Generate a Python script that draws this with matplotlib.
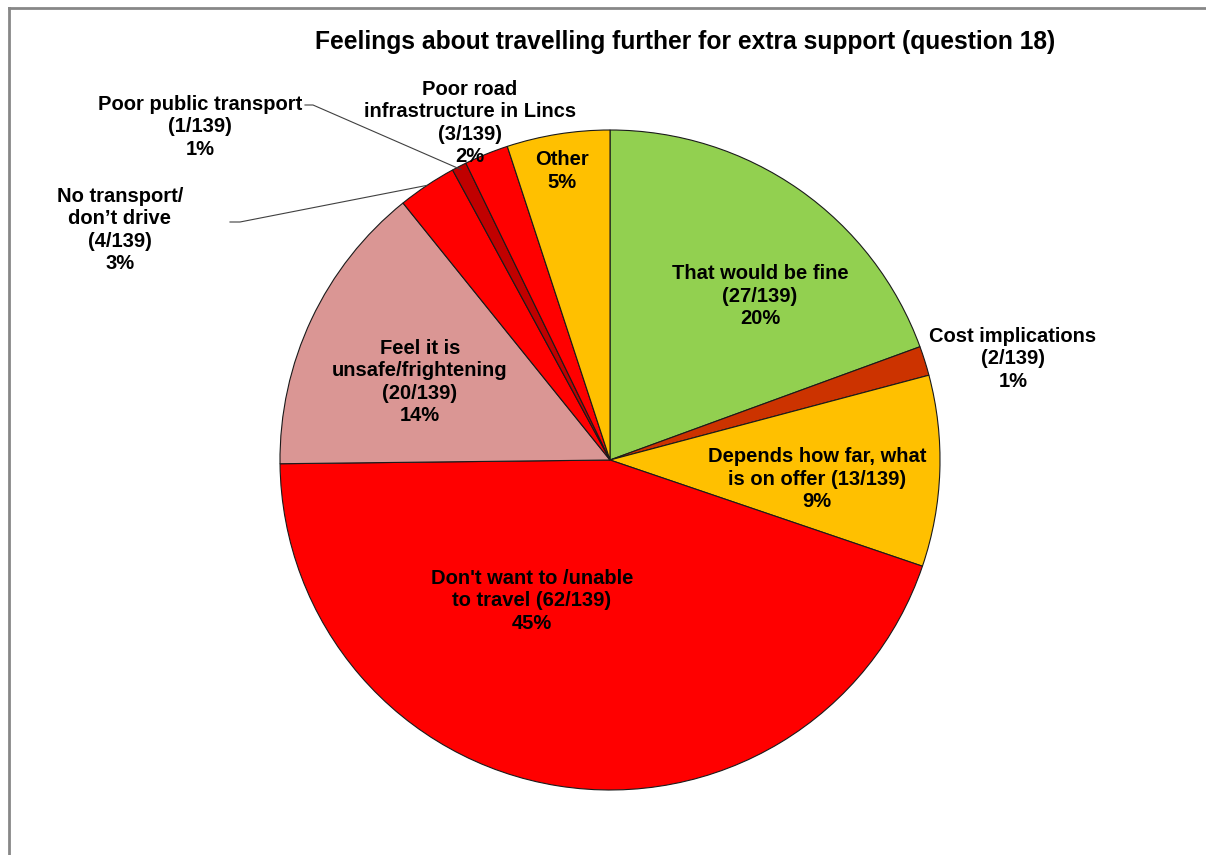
import numpy as np
import matplotlib.pyplot as plt
from matplotlib.lines import Line2D

plt.rcParams['font.family'] = ['Liberation Sans', 'DejaVu Sans']

# Data, clockwise from 12 o'clock
labels = ["That would be fine\n(27/139)", "Cost implications\n(2/139)",
          "Depends how far, what\nis on offer (13/139)",
          "Don't want to /unable\nto travel (62/139)", "Feel it is\nunsafe/frightening\n(20/139)",
          "No transport/\ndon\u2019t drive\n(4/139)", "Poor public transport\n(1/139)",
          "Poor road\ninfrastructure in Lincs\n(3/139)", "Other"]
counts = [27, 2, 13, 62, 20, 4, 1, 3, 7]
percents = ["20%", "1%", "9%", "45%", "14%", "3%", "1%", "2%", "5%"]
colors = ["#92D050", "#CC3300", "#FFC000", "#FF0000", "#DA9694",
          "#FF0000", "#C00000", "#FF0000", "#FFC000"]

W, H = 1206, 855
fig = plt.figure(figsize=(W / 100, H / 100), dpi=100)
ax = fig.add_axes([0, 0, 1, 1])

cx, cy, R = 610, H - 460, 330
wedges, _ = ax.pie(counts, colors=colors, startangle=90, counterclock=False,
                   center=(cx, cy), radius=R, frame=True,
                   wedgeprops=dict(edgecolor='#1a1a1a', linewidth=0.8))
ax.set_xlim(0, W)
ax.set_ylim(0, H)
ax.set_aspect('equal')
ax.axis('off')

# label text centres (pixels from top-left)
label_pos = [(760, 296), (1013, 359), (817, 479), (532, 601), (420, 382),
             (120, 230), (200, 127), (470, 123), (562, 171)]
for lab, pct, (x, y) in zip(labels, percents, label_pos):
    ax.text(x, H - y, f"{lab}\n{pct}", ha='center', va='center', fontsize=14.5,
            fontweight='bold', linespacing=1.24, color='black')

# leader lines for the small slices on the upper left
def edge_point(i, r):
    w = wedges[i]
    a = np.deg2rad((w.theta1 + w.theta2) / 2)
    return cx + r * np.cos(a), cy + r * np.sin(a)

ex, ey = edge_point(6, R * 0.99)
ax.plot([305, 313, ex], [H - 105, H - 105, ey], color='#404040', lw=0.8)
ex, ey = edge_point(5, R * 1.0)
ax.plot([230, 240, ex], [H - 222, H - 222, ey], color='#404040', lw=0.8)

ax.text(685, H - 42, "Feelings about travelling further for extra support (question 18)",
        ha='center', va='center', fontsize=17.7, fontweight='bold')

# chart area border (cropped at right and bottom)
fig.add_artist(Line2D([9 / W, 1], [1 - 8 / H, 1 - 8 / H], color='#878787', lw=2,
                      transform=fig.transFigure))
fig.add_artist(Line2D([9 / W, 9 / W], [0, 1 - 8 / H], color='#878787', lw=2,
                      transform=fig.transFigure))

fig.savefig('out.png', dpi=100, facecolor='white')
